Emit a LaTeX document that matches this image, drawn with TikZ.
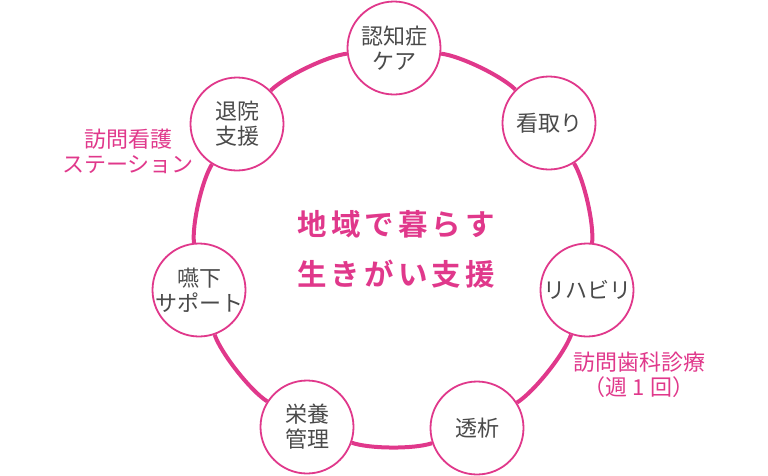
\documentclass[tikz,border=0pt]{standalone}
\usepackage{fontspec}
\usepackage{tikz}
\newfontfamily\jpfont{Noto Sans CJK JP}
\newfontfamily\jptitle[LetterSpace=14]{Noto Sans CJK JP Bold}
\definecolor{ringpink}{HTML}{E0388B}
\definecolor{textgray}{HTML}{4A4A4A}

\begin{document}
\begin{tikzpicture}[x=1pt,y=-1pt,
    care/.style={circle,draw=ringpink,line width=1.8pt,fill=white,minimum size=93pt,inner sep=-15pt,align=center,text=textgray,font=\jpfont\fontsize{22}{25}\selectfont},
    ring/.style={draw=ringpink,line width=4pt,bend left=19,looseness=0.6},
    note/.style={align=center,text=ringpink,font=\jpfont\fontsize{22}{25}\selectfont}]
\useasboundingbox (0,0) rectangle (768,475);
\node[care] (ninchi) at (394,48) {認知症\\ケア};
\node[care] (mitori) at (549,123) {看取り};
\node[care] (riha) at (587,290) {リハビリ};
\node[care] (touseki) at (477,428) {透析};
\node[care] (eiyou) at (307,427) {栄養\\管理};
\node[care] (enge) at (199,290) {嚥下\\サポート};
\node[care] (taiin) at (237,124) {退院\\支援};
\draw[ring] (ninchi) to (mitori); \draw[ring] (mitori) to (riha); \draw[ring] (riha) to (touseki);
\draw[ring] (touseki) to (eiyou); \draw[ring] (eiyou) to (enge); \draw[ring] (enge) to (taiin);
\draw[ring] (taiin) to (ninchi);
\node[note] (houkan) at (128,151) {訪問看護\\ステーション};
\node[note] (shika) at (639,375) {訪問歯科診療\\（週 1 回）};
\node[align=center,text=ringpink,font=\jptitle\fontsize{29.5}{50}\selectfont] (title) at (396,249) {地域で暮らす\\生きがい支援};
\end{tikzpicture}
\end{document}
